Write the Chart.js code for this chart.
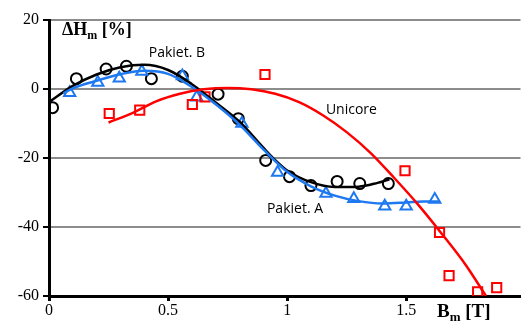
<!DOCTYPE html>
<html><head><meta charset="utf-8">
<script src="https://cdn.jsdelivr.net/npm/chart.js@4/dist/chart.umd.min.js"></script>
<style>html,body{margin:0;padding:0;background:#fff;overflow:hidden}canvas{display:block}</style>
</head><body>
<canvas id="c" width="529" height="323"></canvas>
<script>
// Measured points
const bPakietB = [0.015, 0.115, 0.24, 0.325, 0.43, 0.56, 0.71, 0.795, 0.91, 1.01, 1.10, 1.21, 1.305, 1.425];
const hPakietB = [-5.4, 3.0, 5.8, 6.6, 3.0, 3.7, -1.5, -8.6, -20.7, -25.4, -28.0, -26.8, -27.4, -27.4];
const bPakietA = [0.087, 0.205, 0.295, 0.39, 0.56, 0.62, 0.81, 0.96, 1.163, 1.28, 1.41, 1.50, 1.62];
const hPakietA = [-1.1, 1.9, 3.1, 5.1, 3.8, -2.4, -10.0, -24.2, -30.3, -31.8, -34.0, -34.0, -32.0];
const bUnicore = [0.253, 0.381, 0.602, 0.655, 0.907, 1.495, 1.64, 1.68, 1.80, 1.88];
const hUnicore = [-7.1, -6.1, -4.5, -2.3, 4.2, -23.7, -41.6, -54.1, -58.8, -57.6];
// Trend lines
const tB = [0.0, 0.1, 0.2, 0.3, 0.4, 0.5, 0.6, 0.7, 0.8, 0.9, 0.95, 1.0, 1.1, 1.2, 1.3, 1.38, 1.43];
const vB = [-3.8, 0.9, 4.2, 6.3, 7.0, 5.5, 1.4, -3.9, -9.5, -17.0, -20.6, -23.6, -27.0, -28.4, -28.3, -27.2, -26.2];
const tA = [0.06, 0.1, 0.2, 0.3, 0.4, 0.5, 0.6, 0.7, 0.8, 0.9, 1.0, 1.1, 1.2, 1.3, 1.4, 1.5, 1.57, 1.64];
const vA = [-1.3, 0.2, 2.4, 4.3, 5.3, 4.4, 0.6, -4.4, -10.3, -17.5, -24.0, -28.2, -30.9, -32.5, -33.2, -32.9, -32.6, -32.6];
const tU = [0.25, 0.35, 0.45, 0.55, 0.65, 0.75, 0.85, 0.95, 1.05, 1.15, 1.25, 1.35, 1.45, 1.55, 1.65, 1.75, 1.835];
const vU = [-9.7, -7.0, -3.6, -1.4, -0.1, 0.3, -0.1, -1.4, -3.8, -7.6, -12.5, -18.5, -25.8, -33.5, -42.0, -51.0, -60.0];
const xTicks = [0, 0.5, 1, 1.5];
const yTicks = [-60, -40, -20, 0, 20];
const seriesLabels = ['Pakiet. B', 'Unicore', 'Pakiet. A'];

const pts = (xs, ys) => xs.map((x, i) => ({x, y: ys[i]}));
const BLACK = '#000000', BLUE = 'rgb(30,120,240)', RED = 'rgb(255,0,0)';

const labelAnchors = [
  {text: seriesLabels[0], x: 0.537, y: 10.3},
  {text: seriesLabels[1], x: 1.27, y: -6.2},
  {text: seriesLabels[2], x: 1.033, y: -34.7}
];

const overlay = {
  id: 'overlay',
  afterDatasetsDraw(chart) {
    const {ctx, scales: {x, y}} = chart;
    ctx.save();
    ctx.fillStyle = '#000';
    ctx.textAlign = 'center';
    ctx.textBaseline = 'middle';
    ctx.font = '14px "Open Sans"';
    labelAnchors.forEach(l => ctx.fillText(l.text, x.getPixelForValue(l.x), y.getPixelForValue(l.y)));
    ctx.textAlign = 'left';
    ctx.textBaseline = 'alphabetic';
    const drawSub = (x0, yb, size, main, sub, rest) => {
      ctx.font = 'bold ' + size + 'px "Liberation Serif"';
      ctx.fillText(main, x0, yb);
      let w = ctx.measureText(main).width;
      ctx.font = 'bold ' + Math.round(size * 0.68) + 'px "Liberation Serif"';
      ctx.fillText(sub, x0 + w, yb + 4);
      w += ctx.measureText(sub).width;
      ctx.font = 'bold ' + size + 'px "Liberation Serif"';
      ctx.fillText(rest, x0 + w, yb);
    };
    drawSub(62, 35, 18, 'ΔH', 'm', ' [%]');
    drawSub(437, 317, 19, 'B', 'm', ' [T]');
    ctx.restore();
  }
};

new Chart(document.getElementById('c'), {
  type: 'scatter',
  data: {
    datasets: [
      {data: pts(tU, vU), showLine: true, borderColor: RED, borderWidth: 2.5, pointRadius: 0, cubicInterpolationMode: 'monotone'},
      {data: pts(tA, vA), showLine: true, borderColor: BLUE, borderWidth: 2.5, pointRadius: 0, cubicInterpolationMode: 'monotone'},
      {data: pts(tB, vB), showLine: true, borderColor: BLACK, borderWidth: 2.5, pointRadius: 0, cubicInterpolationMode: 'monotone'},
      {data: pts(bUnicore, hUnicore), pointStyle: 'rect', pointRadius: 6.5, pointBorderWidth: 2, pointBorderColor: RED, pointBackgroundColor: 'rgba(0,0,0,0)'},
      {data: pts(bPakietA, hPakietA), pointStyle: 'triangle', pointRadius: 6.5, pointBorderWidth: 2, pointBorderColor: BLUE, pointBackgroundColor: 'rgba(0,0,0,0)'},
      {data: pts(bPakietB, hPakietB), pointStyle: 'circle', pointRadius: 5.5, pointBorderWidth: 2, pointBorderColor: BLACK, pointBackgroundColor: 'rgba(0,0,0,0)'}
    ]
  },
  options: {
    responsive: false,
    animation: false,
    layout: {padding: {top: 20, right: 0, left: 0, bottom: 0}},
    plugins: {legend: {display: false}, tooltip: {enabled: false}},
    scales: {
      x: {
        type: 'linear', min: 0, max: 1.98,
        afterBuildTicks: s => { s.ticks = xTicks.map(v => ({value: v})); },
        afterFit: s => { s.height = 27; },
        ticks: {color: '#000', font: {family: '"Liberation Serif"', size: 16}, padding: 0,
                callback: v => String(v), maxRotation: 0, autoSkip: false},
        grid: {drawOnChartArea: false, drawTicks: true, tickLength: 5, tickColor: '#000', tickWidth: 3},
        border: {color: '#000', width: 3}
      },
      y: {
        type: 'linear', min: -60, max: 20,
        afterBuildTicks: s => { s.ticks = yTicks.map(v => ({value: v})); },
        afterFit: s => { s.width = 49; },
        ticks: {color: '#000', font: {family: '"Liberation Serif"', size: 16}, padding: 4},
        grid: {color: '#8c8c8c', lineWidth: 2, drawTicks: true, tickLength: 6, tickColor: '#000', tickWidth: 2},
        border: {color: '#000', width: 3}
      }
    }
  },
  plugins: [overlay]
});
</script>
</body></html>
